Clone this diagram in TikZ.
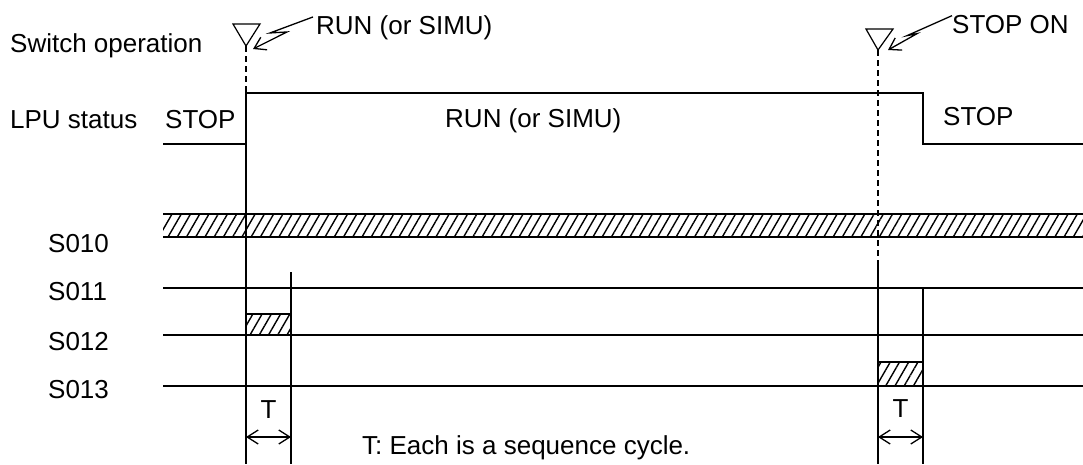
\documentclass[tikz,border=0pt]{standalone}
\usepackage{fontspec}
\setmainfont{Liberation Sans}
\usetikzlibrary{arrows.meta, patterns.meta, positioning, calc}

\begin{document}
\begin{tikzpicture}[
    x=1pt, y=-1pt,
    font=\fontsize{26}{31}\selectfont,
    lbl/.style={anchor=base west, inner sep=0pt},
    sig/.style={line width=1.8pt},
    guide/.style={line width=1.3pt, dash pattern=on 6pt off 4pt},
    trig/.style={draw=black, line width=1.2pt},
    hatch/.style={pattern={Lines[angle=60, distance=8pt, line width=1.4pt]}},
    bolt/.style={line width=1.3pt, -{Straight Barb[length=11pt, width=14pt]}},
    span/.style={line width=1.3pt, {Straight Barb[length=11pt, width=14pt]}-{Straight Barb[length=11pt, width=14pt]}}
]
\useasboundingbox (0,0) rectangle (1083,464);

% Switch operation
\node[lbl] (swlbl) at (10,52) {Switch operation};
\coordinate (runpt) at (246,46);
\coordinate (stoppt) at (878,50);
\draw[trig] ($(runpt)+(-13,-22)$) -- ($(runpt)+(14,-22)$) -- (runpt) -- cycle;
\draw[trig] ($(stoppt)+(-12,-21)$) -- ($(stoppt)+(15,-21)$) -- (stoppt) -- cycle;
\node[lbl] (runsw) at (316,34) {RUN (or SIMU)};
\node[lbl] (stopsw) at (952,33) {STOP ON};
\draw[bolt] ($(runsw.north west)+(-3,2)$) -- ++(-43,16) -- ++(17,-1) -- ($(runpt)+(7,3)$);
\draw[bolt] ($(stopsw.north west)+(0,1)$) -- ++(-45,20) -- ++(10,-2) -- ($(stoppt)+(10,0)$);

% LPU status
\node[lbl] (lpulbl) at (10,128) {LPU status};
\node[lbl] (stopa) at (165,128) {STOP};
\node[lbl] (runb) at (445,127) {RUN (or SIMU)};
\node[lbl] (stopb) at (943,125) {STOP};
\draw[sig] (163,144) -- (246,144) -- (246,93) -- (923,93) -- (923,144) -- (1083,144);

% S010 band
\node[lbl] (s010) at (48,252) {S010};
\fill[hatch] (163,214) rectangle (1083,237);
\draw[sig] (163,214) -- (1083,214) (163,237) -- (1083,237);

% S011 - S013
\foreach \y/\b/\name in {288/300/S011, 335/350/S012, 386/398/S013}{
    \node[lbl] at (48,\b) {\name};
    \draw[sig] (163,\y) -- (1083,\y);
}

% one sequence cycle after each switch
\draw[sig, hatch] (246,314) rectangle (291,335);
\draw[sig, hatch] (878,362) rectangle (923,386);
\draw[sig] (246,93) -- (246,464);
\draw[sig] (291,272) -- (291,464);
\draw[sig] (878,266) -- (878,464);
\draw[sig] (923,289) -- (923,464);
\draw[guide] (runpt) -- (246,464);
\draw[guide] (stoppt) -- (878,464);

% T marks
\coordinate (ta1) at (246,437);
\coordinate (ta2) at (291,437);
\coordinate (tb1) at (878,437);
\coordinate (tb2) at (923,437);
\draw[span] (ta1) -- (ta2);
\draw[span] (tb1) -- (tb2);
\node[anchor=base, inner sep=0pt] (ta) at (268.5,418) {T};
\node[anchor=base, inner sep=0pt] (tb) at (900.5,417) {T};
\node[lbl] (tnote) at (362,454) {T: Each is a sequence cycle.};

\end{tikzpicture}
\end{document}
